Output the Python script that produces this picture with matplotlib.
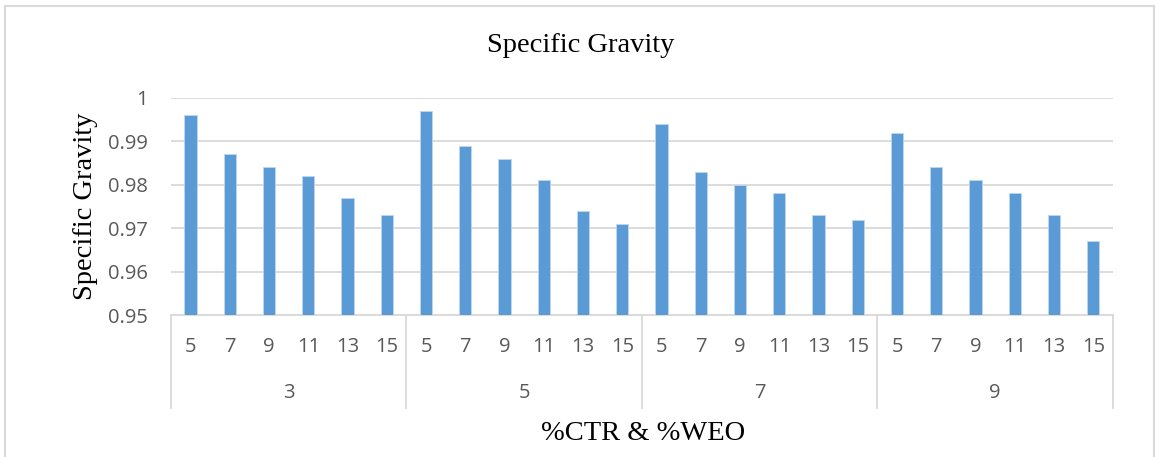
import numpy as np
import matplotlib.pyplot as plt
from matplotlib.lines import Line2D
from matplotlib.transforms import blended_transform_factory

# %CTR groups and %WEO levels inside each group
ctr = ["3", "5", "7", "9"]
weo = ["5", "7", "9", "11", "13", "15"]

sg_ctr3 = [0.996, 0.987, 0.984, 0.982, 0.977, 0.973]
sg_ctr5 = [0.997, 0.989, 0.986, 0.981, 0.974, 0.971]
sg_ctr7 = [0.994, 0.983, 0.980, 0.978, 0.973, 0.972]
sg_ctr9 = [0.992, 0.984, 0.981, 0.978, 0.973, 0.967]

values = sg_ctr3 + sg_ctr5 + sg_ctr7 + sg_ctr9
n = len(values)
x = np.arange(n)

grid_c = "#d9d9d9"
text_c = "#595959"
bar_c = "#5b9bd5"
serif = "Liberation Serif"
sans = "Open Sans"
tick_fs = 14.5
label_fs = 20.5

fig = plt.figure(figsize=(11.55, 4.57), dpi=100)
ax = fig.add_axes([0.148, 0.3107, 0.8156, 0.4749])

ax.bar(x, values, width=0.31, color=bar_c, edgecolor="#bdd7ee", linewidth=0.6, zorder=3)

ax.set_xlim(-0.5, n - 0.5)
ax.set_ylim(0.95, 1.0)
ax.set_yticks(np.arange(0.95, 1.001, 0.01))
ax.set_yticklabels(["0.95", "0.96", "0.97", "0.98", "0.99", "1"])
ax.tick_params(axis="y", length=0, pad=16.5, labelsize=tick_fs, labelcolor=text_c)
for lab in ax.get_yticklabels():
    lab.set_fontfamily(sans)
ax.set_xticks([])
ax.grid(axis="y", color=grid_c, linewidth=1.3, zorder=0)
for s in ["top", "right", "left"]:
    ax.spines[s].set_visible(False)
ax.spines["bottom"].set_color(grid_c)
ax.spines["bottom"].set_linewidth(1.3)

# two-level category axis
tr = blended_transform_factory(ax.transData, fig.transFigure)
for i in range(n):
    ax.text(x[i], 1 - 347 / 457, weo[i % len(weo)], transform=tr, ha="center", va="center",
            fontsize=tick_fs, color=text_c, family=sans)
for g, name in enumerate(ctr):
    mid = g * len(weo) + (len(weo) - 1) / 2
    ax.text(mid, 1 - 393 / 457, name, transform=tr, ha="center", va="center",
            fontsize=tick_fs, color=text_c, family=sans)
for g in range(len(ctr) + 1):
    xb = g * len(weo) - 0.5
    ax.add_line(Line2D([xb, xb], [0.3107, 1 - 408 / 457], transform=tr, color=grid_c,
                       linewidth=1.3, clip_on=False))

fig.text(581 / 1155, 1 - 45 / 457, "Specific Gravity", ha="center", va="center",
         fontsize=label_fs, family=serif, color="black")
fig.text(85 / 1155, 1 - 206 / 457, "Specific Gravity", ha="center", va="center",
         rotation=90, fontsize=label_fs, family=serif, color="black")
fig.text(643 / 1155, 1 - 433 / 457, "%CTR & %WEO", ha="center", va="center",
         fontsize=label_fs, family=serif, color="black")

# outer chart frame (open at the bottom edge of the image)
for xs, ys in [([4.5, 4.5], [0, 451]), ([4.5, 1154], [451, 451]), ([1154, 1154], [0, 451])]:
    fig.add_artist(Line2D(np.array(xs) / 1155, np.array(ys) / 457, transform=fig.transFigure,
                          color=grid_c, linewidth=1.5))

fig.savefig("out.png", dpi=100)
